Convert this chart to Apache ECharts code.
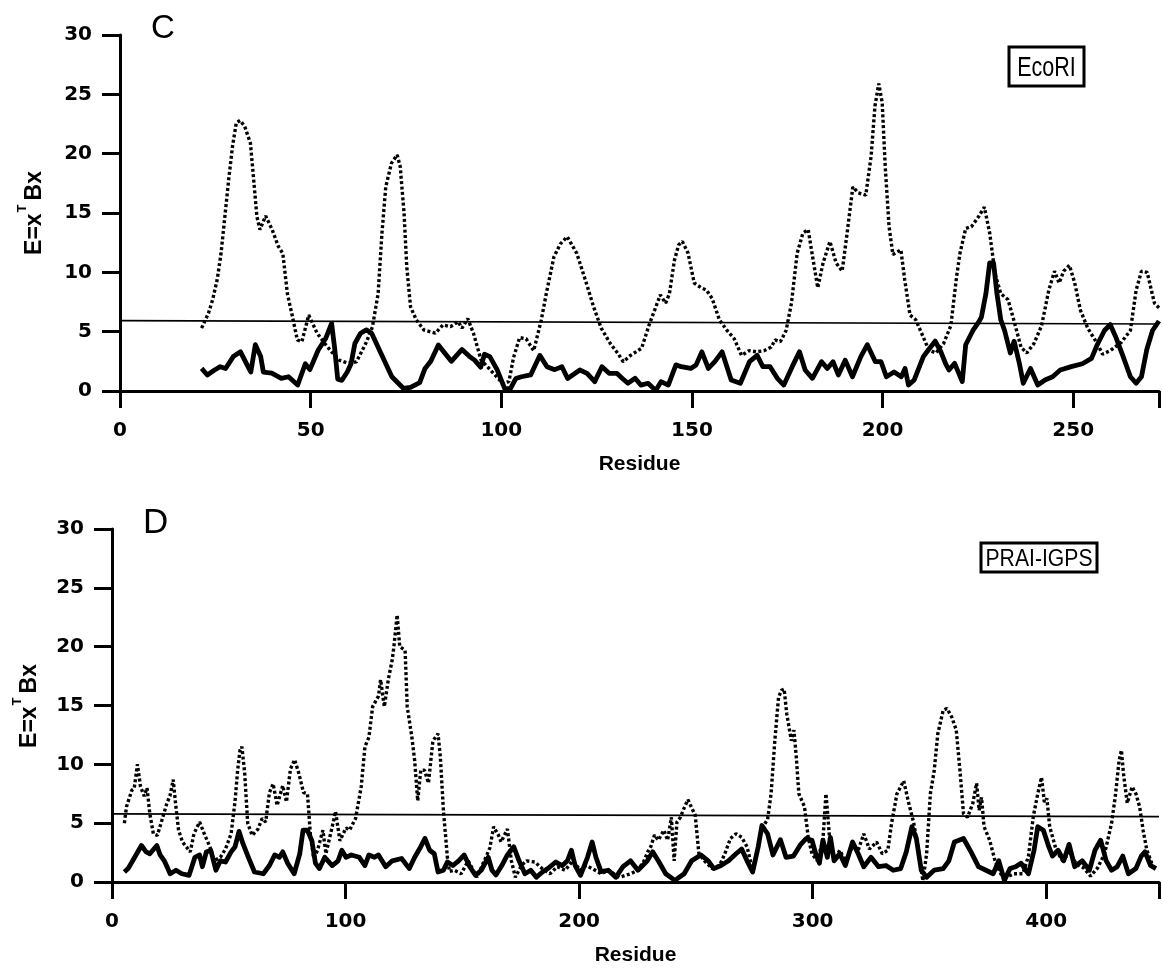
<!DOCTYPE html>
<html>
<head>
<meta charset="utf-8">
<script src="https://cdn.jsdelivr.net/npm/echarts@6/dist/echarts.min.js"></script>
<style>
  html, body { margin: 0; padding: 0; background: #fff; }
  #chart { width: 1162px; height: 969px; }
</style>
</head>
<body>
<div id="chart"></div>
<script>
// panel C, EcoRI : [residue, E]
var ecoriDotted = [
  [21.4,5.3],[23.2,6.55],[24.3,7.7],[25.5,9.4],[26.5,11.6],[27.5,14.7],[28.5,17.8],[29.5,20.6],[30.5,22.6],[31.5,22.8],
  [32.7,22.3],[34.2,20.9],[34.9,18.4],[35.9,14.7],[36.7,13.6],[38.2,14.75],[39.9,13.6],[41.5,12.2],[42.7,11.6],[43.9,8.2],
  [45.2,6.3],[46.5,4.3],[47.7,4.16],[49.5,6.4],[51.7,4.87],[53.7,4.0],[55.5,3.3],[57.5,2.6],[59.7,2.36],[62,2.45],
  [64.6,4.1],[66.2,5.4],[67.7,8.2],[68.7,13.3],[69.7,17.2],[71.2,19.2],[72.7,19.9],[73.5,18.9],[74.5,15.0],[75.2,10.5],
  [76.2,7.1],[77.7,6.0],[79.7,5.14],[82.7,4.87],[84.7,5.57],[86.7,5.42],[88.7,5.84],[89.7,5.3],[91.2,6.1],[92.7,4.87],
  [94.7,2.6],[96.5,2.0],[98.5,1.3],[100.5,0.6],[102,0.8],[103.2,2.8],[104.8,4.5],[106.5,4.4],[108.5,3.4],[110.5,6.0],
  [111.8,8.2],[113.8,11.3],[115.5,12.4],[117.3,13.0],[119.8,11.6],[122.3,9.1],[124.2,7.1],[126.2,5.3],[128.6,4.0],[130.5,3.2],
  [132,2.47],[133.9,3.0],[136.8,3.6],[138.8,5.6],[140.2,6.8],[141.7,8.1],[143.1,7.4],[144.1,8.2],[145.4,11.0],[146.5,12.3],
  [147.5,12.6],[149,11.6],[150.6,9.1],[152.4,8.7],[153.8,8.5],[155.3,7.8],[157.2,6.0],[159.2,5.1],[161.1,4.4],[163,3.0],
  [165,3.4],[166.9,3.3],[168.9,3.4],[170.8,3.7],[171.8,4.3],[173.2,4.15],[174.7,5.1],[176.1,7.4],[177.6,11.6],[179.1,13.3],
  [180.5,13.6],[181.5,11.6],[183,8.7],[184.4,10.8],[186.2,12.6],[187.8,10.8],[189.4,10.1],[190.7,13.3],[192.2,17.2],[193.6,16.7],
  [195.6,16.5],[197,19.8],[198,24.0],[199,25.9],[199.9,24.3],[200.7,18.9],[201.7,13.85],[202.7,11.5],[204.8,11.9],[205.8,9.4],
  [207.2,6.4],[208.7,6.0],[210.6,4.6],[212.1,3.46],[214,3.2],[216,4.0],[217.9,5.5],[219.4,9.6],[220.3,11.6],[221.8,13.7],
  [223.3,13.85],[225.2,14.7],[226.7,15.5],[228.1,13.3],[229.5,9.9],[231,8.2],[232.9,7.7],[234.4,6.0],[236.3,3.7],[237.8,3.2],
  [239.7,4.0],[241.7,5.5],[243.6,8.5],[245.1,10.1],[246.3,9.1],[247.5,10.1],[249,10.6],[250.4,9.1],[251.9,6.8],[253.8,5.3],
  [256.3,4.0],[257.7,3.1],[259.7,3.4],[262.6,4.1],[265,5.1],[266.5,8.5],[267.9,10.1],[269.4,10.0],[271.3,7.4],[272.5,7.0]
];
var ecoriSolid = [
  [21.4,1.9],[22.9,1.35],[24.8,1.77],[26.3,2.05],[27.7,1.9],[29.7,2.9],[31.6,3.3],[33.1,2.35],[34.3,1.6],[35.5,3.9],
  [36.9,2.9],[37.6,1.6],[39.8,1.5],[42.3,1.07],[44.2,1.2],[46.6,0.5],[48.6,2.3],[49.8,1.8],[52,3.46],[53.9,4.4],
  [55.5,5.7],[56.3,3.6],[57.1,1.0],[58.2,0.9],[59.6,1.6],[60.6,2.3],[61.6,4.0],[63.1,4.87],[64.6,5.15],[66,4.87],
  [68.4,3.2],[71.3,1.2],[74.3,0.23],[76.2,0.3],[78.6,0.7],[80,1.9],[81.5,2.5],[83.5,3.88],[84.9,3.3],[86.9,2.5],
  [89.7,3.5],[91.7,2.9],[93,2.6],[94.6,2.0],[95.6,3.1],[97,2.9],[98.9,1.8],[100.9,0.2],[102.4,0.2],[103.8,1.05],
  [105.3,1.2],[107.7,1.35],[110.1,3.0],[112,2.05],[114,1.8],[115.9,2.05],[117.4,1.05],[120.6,1.77],[122.5,1.49],[124.5,0.79],
  [126.4,2.05],[128.3,1.49],[130.3,1.49],[131.7,1.07],[133.2,0.65],[135.1,1.07],[136.6,0.5],[138.5,0.65],[140.5,0.05],[141.9,0.79],
  [143.8,0.5],[145.8,2.2],[147.2,2.05],[149.7,1.9],[151.1,2.2],[152.6,3.3],[154.3,1.9],[156,2.47],[157.9,3.3],[160.3,0.93],
  [162.7,0.65],[165.1,2.47],[167.1,3.0],[168.6,2.05],[170.5,2.05],[172.4,1.07],[174.1,0.5],[176.3,2.05],[178.2,3.3],[179.7,1.77],
  [181.6,1.07],[184,2.47],[185.5,1.9],[187,2.47],[188.4,1.35],[190.2,2.6],[192.1,1.2],[194.3,2.9],[196,3.9],[198.1,2.47],
  [199.6,2.47],[201,1.2],[203,1.6],[204.9,1.2],[205.9,1.9],[206.8,0.5],[208.3,0.93],[210.7,2.9],[212,3.46],[213.8,4.2],
  [215.3,3.3],[216.5,2.33],[217.4,1.77],[218.9,2.33],[220.9,0.79],[221.8,3.9],[223.7,5.1],[225.2,5.8],[225.9,6.2],[227.1,8.2],
  [228.1,10.8],[229.1,10.8],[230,8.2],[231,6.0],[232,5.1],[233.5,3.2],[234.5,4.2],[235.9,2.3],[236.9,0.65],[238.8,1.9],
  [240.7,0.5],[242.6,0.93],[244.6,1.2],[246.6,1.77],[249.5,2.05],[252.4,2.3],[254.8,2.75],[256.3,3.9],[258.2,5.1],[259.7,5.6],
  [261.1,4.6],[263.1,2.9],[265,1.2],[266.5,0.65],[267.9,1.2],[269.3,3.5],[270.8,5.1],[272.5,5.9]
];
var ecoriCutoff = [[0,5.93],[272.5,5.65]];

// panel D, PRAI-IGPS : [residue, E]
var praiDotted = [
  [5.3,5.0],[6.2,6.4],[8.5,7.8],[9.5,7.95],[10.9,10.0],[12.2,8.1],[13.8,7.3],[15,8.0],[16.2,5.8],[17.7,4.1],
  [19.4,3.96],[21,5.0],[23.5,6.7],[24.8,7.3],[26.2,8.7],[27.2,6.7],[28.5,4.4],[30.2,3.4],[33.5,2.56],[35.1,4.1],
  [37.5,5.1],[39.5,4.1],[42,2.95],[43.7,1.8],[46.4,2.1],[48.6,2.8],[51,4.1],[52.7,6.9],[53.8,9.5],[54.8,11.2],
  [55.6,11.5],[56.8,9.3],[58.1,5.0],[60,3.96],[62.5,4.5],[64.3,5.4],[65.8,5.1],[67.4,7.6],[69,8.35],[70.7,6.5],
  [73.1,8.2],[74.7,6.8],[76.4,9.6],[78.2,10.4],[79.9,9.3],[82,7.6],[83.7,7.5],[85,3.9],[86.4,2.0],[88,2.7],
  [90.3,4.4],[91.6,2.4],[94.3,4.7],[95.7,6.0],[97.6,3.5],[100.2,4.6],[101.7,4.4],[104.3,5.4],[106.7,8.1],[108.3,11.5],
  [110,12.3],[111.6,14.9],[114.1,15.8],[115,17.2],[116.6,14.9],[118.3,17.2],[120,18.9],[120.7,20.0],[122.1,22.7],[123.2,20.0],
  [125.5,19.7],[126.4,14.9],[128.4,12.3],[129.6,10.3],[130.9,6.9],[132.2,9.5],[133.8,9.5],[135.5,8.4],[137.4,12.0],[139.6,12.6],
  [140.6,10.6],[141.9,6.1],[143.6,2.1],[144.5,0.9],[146.6,1.0],[149.5,0.7],[152.5,1.8],[156.3,0.4],[159.4,1.8],[161.8,2.9],
  [163.4,4.7],[165.4,4.0],[166.6,3.4],[169.3,4.5],[171,1.8],[172.7,0.4],[175.3,1.4],[177.5,1.8],[181,1.7],[184.2,1.14],
  [187.5,0.7],[190.7,1.3],[194,1.0],[197.3,1.8],[200.5,1.0],[203,1.4],[206,1.1],[209.4,0.7],[212.5,1.0],[217.3,0.4],
  [222,0.7],[225.2,1.0],[227.8,1.8],[229.5,2.6],[230.7,3.0],[232.3,4.0],[233.9,3.55],[236.3,4.4],[237.9,3.55],[239.5,5.5],
  [240.7,1.8],[241.9,5.1],[243.4,5.5],[245,6.3],[246.6,7.0],[248.2,6.3],[249.7,5.7],[251.3,2.4],[253.7,1.8],[256.9,1.14],
  [260.1,1.4],[262.4,2.4],[264.8,3.7],[267.2,4.1],[269.6,3.8],[271.9,3.0],[274.3,1.0],[276.7,3.0],[278.3,4.6],[280.7,5.3],
  [282.2,7.5],[283.8,12.0],[285.4,15.7],[286.7,16.3],[287.8,16.4],[288.9,14.3],[290.9,12.0],[292,12.9],[293,10.6],[294.1,7.5],
  [296.5,6.4],[298.1,3.8],[299.7,2.4],[302,1.8],[304.4,3.55],[305.7,7.5],[306.3,6.1],[307.3,3.55],[309.2,1.8],[311.6,2.7],
  [314,1.8],[317.1,3.0],[319.5,2.7],[321.9,4.1],[324.3,2.8],[327.4,3.4],[329.8,2.4],[332.2,2.7],[333.8,5.0],[336.1,7.5],
  [339,8.6],[340.9,6.9],[343.3,5.0],[345.3,2.7],[347.2,0.1],[348.8,2.4],[350.4,7.5],[352,9.4],[353.6,12.6],[355.9,14.6],
  [357.5,14.75],[359.6,14.0],[361.5,12.9],[363.1,9.4],[364.6,5.8],[366.3,5.5],[368.6,6.7],[370.2,8.4],[371.3,6.1],[372.3,7.2],
  [373.4,4.7],[375.8,3.55],[378.1,1.8],[380.5,0.7],[382.9,0.4],[386.1,0.7],[390,0.7],[392.4,2.2],[394.5,5.6],[396.4,7.5],
  [398,8.9],[399.2,6.8],[400.3,7.1],[401.5,4.7],[404.3,2.7],[407,1.8],[410,2.5],[413,1.5],[416,1.2],[419,0.5],
  [422,1.2],[425,2.4],[428,5.0],[429.6,7.3],[431.2,10.3],[432.2,11.2],[433.1,9.2],[434.7,6.7],[436.8,8.1],[438.4,7.5],
  [440,6.4],[441.5,4.4],[443.1,2.7],[445.2,1.6],[447,1.0]
];
var praiSolid = [
  [5.3,0.85],[6.9,1.14],[9.4,2.0],[12.6,3.1],[14.6,2.56],[16.2,2.4],[19.2,3.1],[20.6,2.3],[22.4,1.8],[24.9,0.7],
  [27.4,1.0],[29.9,0.7],[33,0.57],[35.5,2.1],[37.5,2.3],[38.7,1.3],[40.4,2.56],[42.3,2.7],[44.5,1.0],[46.4,1.8],
  [48.6,1.7],[51,2.56],[52.7,3.0],[54.4,4.3],[56,3.3],[58.4,2.1],[61,0.85],[64.8,0.7],[67.4,1.4],[69.7,2.3],
  [71.7,2.1],[73.1,2.56],[75.2,1.6],[78,0.7],[80.4,2.4],[81.8,4.4],[83.7,4.4],[85.6,3.5],[87.1,1.6],[88.8,1.14],
  [91.1,2.1],[94.3,1.4],[96.8,1.8],[98.4,2.7],[100.2,2.1],[102.5,2.3],[105.9,2.1],[108.3,1.4],[110,2.3],[112.4,2.1],
  [114.1,2.3],[117.2,1.3],[120,1.8],[124,2.0],[127.3,1.14],[129.6,2.1],[132.2,3.0],[134,3.7],[136,2.7],[138,2.4],
  [139.6,0.85],[141.9,1.0],[143.6,1.7],[146,1.4],[148.4,1.8],[150.8,2.3],[153.2,1.3],[155.6,0.57],[158.1,1.0],[161.1,2.1],
  [162.7,1.0],[164.4,0.6],[166.9,1.4],[169.3,2.3],[172,3.0],[174.3,1.8],[176.8,0.7],[179.3,1.0],[181.7,0.4],[184.3,0.85],
  [186.6,1.14],[190,1.7],[192.8,1.4],[195,1.8],[196.7,2.7],[198.3,1.4],[200.6,0.57],[203.6,2.1],[205.6,3.4],[207.2,2.1],
  [209.4,0.88],[212.5,1.0],[215.7,0.4],[218.8,1.3],[222,1.8],[225.2,1.0],[229.2,1.8],[231.5,2.56],[233.9,1.8],[237.1,0.7],
  [241,0.14],[245,0.7],[248.2,1.8],[252.1,2.3],[255.3,1.8],[257.7,1.14],[260.8,1.4],[264,1.8],[267.2,2.4],[269.6,2.8],
  [271.9,1.8],[274.3,0.85],[276.7,3.0],[278.3,4.8],[280.7,4.1],[283,2.3],[286.2,3.6],[288.6,2.1],[291.8,2.2],[294.9,3.2],
  [297.3,3.7],[299.7,3.55],[301.3,2.4],[302.9,1.6],[304.4,3.55],[306.3,2.1],[307.6,3.8],[309.2,1.8],[311.6,2.4],[314,1.4],
  [317.1,3.4],[319.5,2.4],[321.9,1.3],[325,2.1],[328.2,1.3],[331.4,1.4],[334.5,1.0],[337.7,1.14],[340.1,2.56],[342.5,4.7],
  [344.4,3.7],[346.5,1.0],[348.8,0.4],[352,1.0],[355.9,1.14],[358.3,1.8],[360.7,3.4],[364.6,3.7],[367.8,2.56],[371,1.3],
  [374.2,1.0],[377.3,0.7],[379.7,1.8],[382.1,0.14],[384.5,1.14],[386.9,1.3],[389.2,1.6],[392.4,0.7],[394.8,2.7],[396.4,4.7],
  [398.8,4.4],[401.1,3.0],[402.7,2.2],[405.1,2.7],[407.5,1.8],[409.8,3.2],[412.2,1.3],[415.4,1.8],[418.5,1.0],[420.9,2.7],
  [423.3,3.55],[425.7,1.8],[428,1.0],[430.4,1.3],[432.8,2.2],[435.2,0.7],[438.4,1.14],[440.7,2.2],[442.3,2.56],[444.7,1.4],
  [447,1.14]
];
var praiCutoff = [[0,5.79],[448.3,5.56]];

var yTicks = [0, 30, 5];          // min, max, step
var ecoriTicks = [0, 272.5, 50];
var praiTicks = [0, 448.3, 100];

var FONT = 'DejaVu Sans';

var chart = echarts.init(document.getElementById('chart'));

function xAxisFor(ticks, idx) {
    return {
        type: 'value', gridIndex: idx,
        min: ticks[0], max: ticks[1], interval: ticks[2],
        offset: 3,
        name: 'Residue', nameLocation: 'middle', nameGap: 60,
        nameTextStyle: { color: '#000', fontFamily: 'Liberation Sans', fontWeight: 'bold', fontSize: 21 },
        axisLine: { lineStyle: { color: '#000', width: 3 } },
        axisTick: { length: 17, lineStyle: { color: '#000', width: 3 } },
        axisLabel: {
            color: '#000', fontFamily: FONT, fontWeight: 'bold', fontSize: 20, margin: 27,
            formatter: function (v) { return v % ticks[2] === 0 ? String(v) : ''; }
        },
        splitLine: { show: false }
    };
}

function yAxisFor(idx) {
    return {
        type: 'value', gridIndex: idx,
        min: yTicks[0], max: yTicks[1], interval: yTicks[2],
        offset: 2,
        axisLine: { show: true, lineStyle: { color: '#000', width: 3 } },
        axisTick: { show: true, length: 18, lineStyle: { color: '#000', width: 3 } },
        axisLabel: { color: '#000', fontFamily: FONT, fontWeight: 'bold', fontSize: 20, margin: 26 },
        splitLine: { show: false }
    };
}

function lineSeries(data, idx, style) {
    return {
        type: 'line', xAxisIndex: idx, yAxisIndex: idx,
        data: data, showSymbol: false, symbol: 'none', smooth: false,
        lineStyle: style, silent: true
    };
}

var dottedStyle = { color: '#000', width: 3.4, type: [3, 2.4] };
var solidStyle = { color: '#000', width: 4.8, join: 'round' };
var cutoffStyle = { color: '#000', width: 1.6 };

// y axis title: E = x^T B x, rotated
function yTitle(x, y) {
    return {
        type: 'text', x: x, y: y, rotation: Math.PI / 2,
        style: {
            text: '{a|E=x}{s|T}{b|Bx}',
            align: 'center', verticalAlign: 'middle',
            rich: {
                a: { fontFamily: 'Liberation Sans', fontSize: 23, fontWeight: 'bold', fill: '#000', lineHeight: 30, verticalAlign: 'bottom' },
                s: { fontFamily: 'Liberation Sans', fontSize: 13, fontWeight: 'bold', fill: '#000', lineHeight: 15, verticalAlign: 'top', padding: [0, 4, 0, 1] },
                b: { fontFamily: 'Liberation Sans', fontSize: 23, fontWeight: 'bold', fill: '#000', lineHeight: 30, verticalAlign: 'bottom' }
            }
        }
    };
}

function boxLabel(x, y, w, h, text, size, sx) {
    return {
        type: 'group', children: [
            { type: 'rect', shape: { x: x, y: y, width: w, height: h },
              style: { fill: '#fff', stroke: '#000', lineWidth: 3 } },
            { type: 'text', x: x + w / 2, y: y + h / 2 + 2, scaleX: sx,
              style: { text: text, align: 'center', verticalAlign: 'middle',
                       fontFamily: 'Liberation Sans', fontSize: size, fill: '#000' } }
        ]
    };
}

chart.setOption({
    backgroundColor: '#fff',
    animation: false,
    grid: [
        { left: 120, top: 35, width: 1042, height: 356 },
        { left: 112, top: 529, width: 1050, height: 353 }
    ],
    xAxis: [xAxisFor(ecoriTicks, 0), xAxisFor(praiTicks, 1)],
    yAxis: [yAxisFor(0), yAxisFor(1)],
    series: [
        lineSeries(ecoriCutoff, 0, cutoffStyle),
        lineSeries(ecoriDotted, 0, dottedStyle),
        lineSeries(ecoriSolid, 0, solidStyle),
        lineSeries(praiCutoff, 1, cutoffStyle),
        lineSeries(praiDotted, 1, dottedStyle),
        lineSeries(praiSolid, 1, solidStyle)
    ],
    graphic: [
        { type: 'text', x: 151, y: 12, style: { text: 'C', fontFamily: 'Liberation Sans', fontSize: 33, fill: '#000' } },
        { type: 'text', x: 143, y: 506, style: { text: 'D', fontFamily: 'Liberation Sans', fontSize: 35, fill: '#000' } },
        yTitle(31, 213),
        yTitle(26, 706),
        boxLabel(1009, 47, 75, 39, 'EcoRI', 28, 0.77),
        boxLabel(981, 543, 116, 29, 'PRAI-IGPS', 23, 0.92)
    ]
});
</script>
</body>
</html>
